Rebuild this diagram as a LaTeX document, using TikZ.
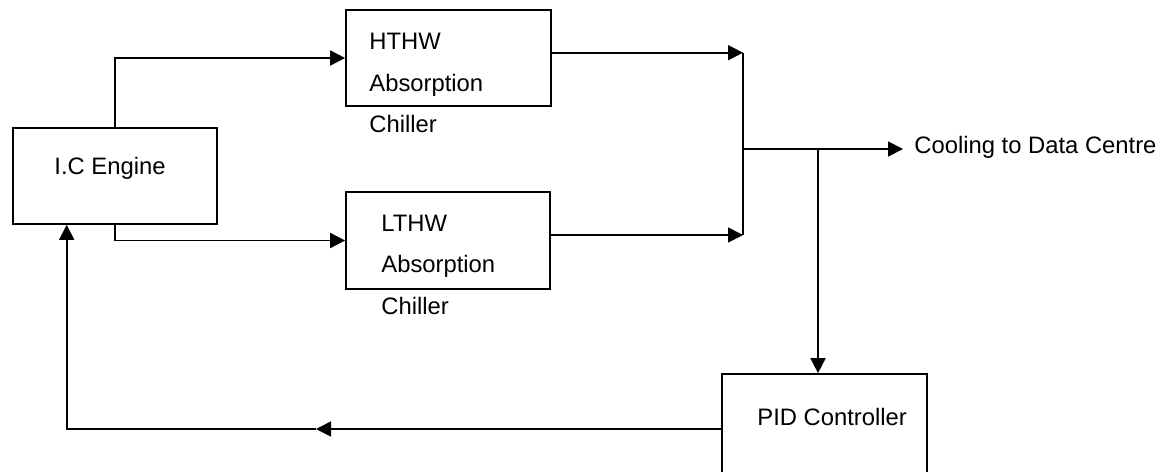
\documentclass[tikz,border=0pt]{standalone}
\usepackage{fontspec}
\setmainfont{Liberation Sans}
\usepackage{tikz}
\usetikzlibrary{arrows.meta, positioning, calc}
\tikzset{
  line/.style={draw=black, line width=0.85pt},
  arrow/.style={draw=black, line width=0.85pt, -{Triangle[length=7.5pt, width=7.5pt]}},
  block/.style={draw=black, line width=0.85pt, rectangle, inner sep=0pt, minimum width=102.5pt, minimum height=48pt},
  lbl/.style={inner sep=0pt, align=left, font=\fontsize{11.9pt}{20.8pt}\selectfont}
}

\begin{document}
\begin{tikzpicture}[x=0.5pt, y=-0.5pt]
  \useasboundingbox (0,0) rectangle (1170,471);
  % Blocks
  \node[block, minimum width=102pt] (engine) at (115,176) {};
  \node[block] (hthw) at (448.5,58) {};
  \node[block, minimum width=102pt, minimum height=48.5pt] (lthw) at (448,240.5) {};
  \node[block, minimum height=51pt] (pid) at (824.5,425) {};

  % Labels
  \node[lbl, anchor=base west] (enginetxt) at (54,174) {I.C Engine};
  \node[lbl, anchor=north west] (hthwtxt) at (369,33) {HTHW\\Absorption\\Chiller};
  \node[lbl, anchor=north west] (lthwtxt) at (381,214.3) {LTHW\\Absorption\\Chiller};
  \node[lbl, anchor=base west] (pidtxt) at (757,425) {PID Controller};
  \node[lbl, anchor=base west] (cooling) at (914,153.3) {Cooling to Data Centre};

  % Junction points
  \coordinate (hj) at (743,52.7);
  \coordinate (lj) at (743,235);
  \coordinate (mj) at (743,149);
  \coordinate (out) at (903,149);
  \coordinate (br) at (818,149);
  \coordinate (fbk) at (66.7,429);
  \coordinate (midfb) at (316,429);

  % Engine to chillers
  \draw[arrow] (engine.north) |- (hthw.west);
  \draw[arrow] (engine.south) |- (lthw.west);

  % Chillers to output
  \draw[arrow] (hthw.east |- hj) -- (hj);
  \draw[arrow] (lthw.east |- lj) -- (lj);
  \draw[line] (hj) -- (lj);
  \draw[arrow] (mj) -- (out);

  % Feedback loop
  \draw[arrow] (br) -- (br |- pid.north);
  \draw[arrow] (pid.west |- fbk) -- (midfb);
  \draw[arrow] (midfb) -- (fbk) -- (fbk |- engine.south);
\end{tikzpicture}
\end{document}
